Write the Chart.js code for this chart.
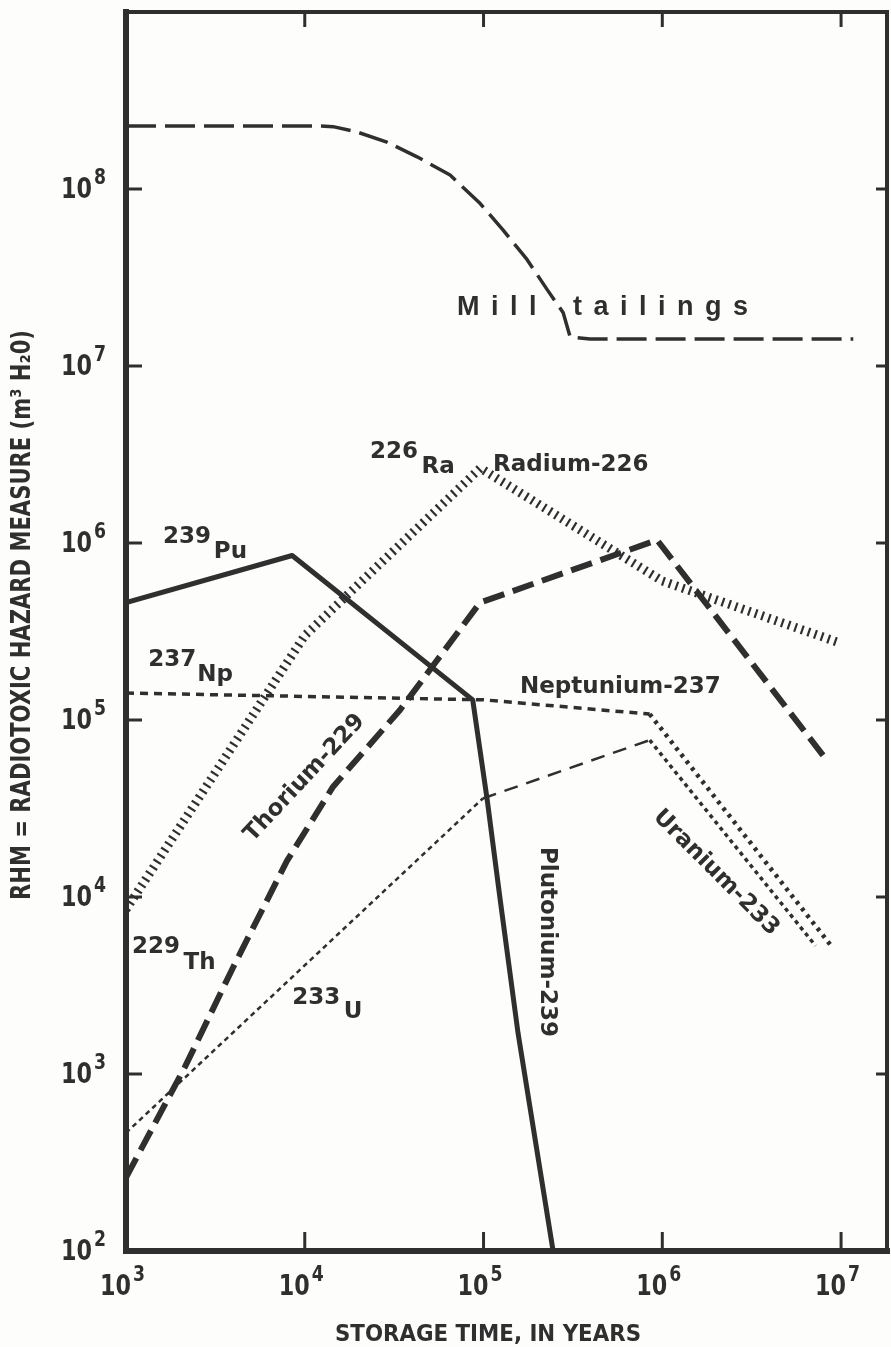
<!DOCTYPE html>
<html>
<head>
<meta charset="utf-8">
<script src="https://cdn.jsdelivr.net/npm/chart.js@4.4.1/dist/chart.umd.min.js"></script>
<style>
  html, body { margin: 0; padding: 0; background: #fdfdfb; }
  #wrap { width: 891px; height: 1347px; }
</style>
</head>
<body>
<div id="wrap"><canvas id="chart" width="891" height="1347"></canvas></div>
<script>
// axes (storage time in years, hazard measure in m3 water)
const xTicks = [1e3, 1e4, 1e5, 1e6, 1e7];
const xTickExp = ["3", "4", "5", "6", "7"];
const yTicks = [1e2, 1e3, 1e4, 1e5, 1e6, 1e7, 1e8];
const yTickExp = ["2", "3", "4", "5", "6", "7", "8"];

// Mill tailings
const millX = [1e3, 1.22e4, 1.44e4, 1.96e4, 2.88e4, 4.25e4, 6.5e4, 9.55e4, 1.28e5, 1.75e5, 2.27e5, 2.79e5, 3.05e5, 3.94e5, 1.17e7];
const millY = [2.27e8, 2.27e8, 2.25e8, 2.1e8, 1.84e8, 1.52e8, 1.2e8, 8.3e7, 5.9e7, 4.0e7, 2.7e7, 2.0e7, 1.46e7, 1.42e7, 1.42e7];

// Plutonium-239
const puX = [1e3, 8.5e3, 8.7e4, 1.05e5, 1.24e5, 1.56e5, 2.45e5];
const puY = [4.6e5, 8.5e5, 1.3e5, 3.5e4, 9.6e3, 1.7e3, 1e2];

// Radium-226
const raX = [1e3, 1e4, 9.6e4, 1e6, 9.5e6];
const raY = [8.5e3, 3e5, 2.65e6, 6.1e5, 2.76e5];

// Thorium-229
const thX = [1e3, 2.14e3, 3.97e3, 7.95e3, 1.44e4, 3.41e4, 9.55e4, 9.35e5, 8.35e6];
const thY = [2.6e2, 1.1e3, 4.0e3, 1.6e4, 4.2e4, 1.14e5, 4.6e5, 1.04e6, 5.9e4];

// Neptunium-237
const npX = [1e3, 1e5, 8.5e5, 9e6];
const npY = [1.42e5, 1.3e5, 1.08e5, 5.15e3];

// Uranium-233
const uX = [1e3, 9.9e4, 8.5e5, 7.2e6];
const uY = [4.65e2, 3.6e4, 7.7e4, 5.3e3];

const ink = "#2f2f2f";

function pts(xs, ys) {
  return xs.map((x, i) => ({ x: x, y: ys[i] }));
}

function series(label, xs, ys, width, dash, seg) {
  const ds = {
    label: label,
    data: pts(xs, ys),
    showLine: true,
    borderColor: ink,
    borderWidth: width,
    borderDash: dash,
    borderCapStyle: "butt",
    borderJoinStyle: "round",
    pointRadius: 0,
    tension: 0,
    fill: false
  };
  if (seg) ds.segment = seg;
  return ds;
}

// text helpers
function txt(ctx, s, x, y, font, align, base, fitW, rot) {
  ctx.save();
  ctx.font = font;
  ctx.fillStyle = ink;
  ctx.textAlign = align;
  ctx.textBaseline = base;
  ctx.translate(x, y);
  if (rot) ctx.rotate(rot);
  if (fitW) {
    const w = ctx.measureText(s).width;
    ctx.scale(fitW / w, 1);
  }
  ctx.fillText(s, 0, 0);
  ctx.restore();
}

function spaced(ctx, s, x, y, font, gap) {
  ctx.save();
  ctx.font = font;
  ctx.fillStyle = ink;
  ctx.textAlign = "left";
  ctx.textBaseline = "alphabetic";
  let cx = x;
  for (const ch of s) {
    ctx.fillText(ch, cx, y);
    cx += ctx.measureText(ch).width + gap;
  }
  ctx.restore();
}

const labelFont = 'bold 23px "DejaVu Sans"';
const condFont = '"DejaVu Sans Condensed", "Liberation Sans Narrow", sans-serif';

// annotation positions in data units
const notes = [
  { s: "226", x: 2.32e4, y: 3.27e6 },
  { s: "Ra", x: 4.5e4, y: 2.69e6 },
  { s: "Radium-226", x: 1.13e5, y: 2.76e6 },
  { s: "239", x: 1.61e3, y: 1.08e6 },
  { s: "Pu", x: 3.1e3, y: 8.9e5 },
  { s: "237", x: 1.33e3, y: 2.18e5 },
  { s: "Np", x: 2.5e3, y: 1.8e5 },
  { s: "Neptunium-237", x: 1.6e5, y: 1.53e5 },
  { s: "229", x: 1.08e3, y: 5.2e3 },
  { s: "Th", x: 2.1e3, y: 4.24e3 },
  { s: "233", x: 8.5e3, y: 2.69e3 },
  { s: "U", x: 1.65e4, y: 2.24e3 }
];
const turned = [
  { s: "Thorium-229", x: 1.0e4, y: 4.7e4, rot: -47 },
  { s: "Plutonium-239", x: 2.27e5, y: 5.57e3, rot: 90 },
  { s: "Uranium-233", x: 2.0e6, y: 1.37e4, rot: 45 }
];

const framePlugin = {
  id: "frame",
  afterDraw(chart) {
    const ctx = chart.ctx;
    const a = chart.chartArea;
    const xs = chart.scales.x, ys = chart.scales.y;

    ctx.save();
    ctx.strokeStyle = ink;
    ctx.lineCap = "square";
    // frame
    ctx.lineWidth = 6;
    ctx.beginPath(); ctx.moveTo(a.left, a.top); ctx.lineTo(a.left, a.bottom); ctx.lineTo(a.right, a.bottom); ctx.stroke();
    ctx.lineWidth = 4;
    ctx.beginPath(); ctx.moveTo(a.left, a.top); ctx.lineTo(a.right, a.top); ctx.lineTo(a.right, a.bottom); ctx.stroke();

    // ticks
    ctx.lineCap = "butt";
    ctx.lineWidth = 3;
    yTicks.forEach(v => {
      const p = ys.getPixelForValue(v);
      if (v > 1e2) {
        ctx.beginPath(); ctx.moveTo(a.left, p); ctx.lineTo(a.left + 16, p); ctx.stroke();
        ctx.beginPath(); ctx.moveTo(a.right, p); ctx.lineTo(a.right - 11, p); ctx.stroke();
      }
    });
    xTicks.forEach(v => {
      const p = xs.getPixelForValue(v);
      if (v > 1e3) {
        ctx.beginPath(); ctx.moveTo(p, a.bottom); ctx.lineTo(p, a.bottom - 19); ctx.stroke();
        ctx.beginPath(); ctx.moveTo(p, a.top); ctx.lineTo(p, a.top + 15); ctx.stroke();
      }
    });
    ctx.restore();

    // tick labels
    yTicks.forEach((v, i) => {
      const p = ys.getPixelForValue(v);
      txt(ctx, "10", a.left - 34, p + 1, "bold 29px " + condFont, "right", "middle", 31);
      txt(ctx, yTickExp[i], a.left - 32, p - 10, "bold 21px " + condFont, "left", "middle", 12);
    });
    xTicks.forEach((v, i) => {
      const p = xs.getPixelForValue(v);
      txt(ctx, "10", p + 5, a.bottom + 36, "bold 29px " + condFont, "right", "middle", 31);
      txt(ctx, xTickExp[i], p + 7, a.bottom + 25, "bold 21px " + condFont, "left", "middle", 12);
    });

    // axis titles
    txt(ctx, "STORAGE TIME, IN YEARS", 488, a.bottom + 84, "bold 23px " + condFont, "center", "middle", 306);
    txt(ctx, "RHM = RADIOTOXIC HAZARD MEASURE (m\u00b3 H\u20820)", 23, 615, "bold 26px " + condFont, "center", "middle", 570, -Math.PI / 2);

    // curve labels
    notes.forEach(n => {
      txt(ctx, n.s, xs.getPixelForValue(n.x), ys.getPixelForValue(n.y), labelFont, "left", "middle");
    });
    turned.forEach(n => {
      txt(ctx, n.s, xs.getPixelForValue(n.x), ys.getPixelForValue(n.y), labelFont, "center", "middle", null, n.rot * Math.PI / 180);
    });

    // mill tailings, letter spaced
    const mf = 'bold 27px "Liberation Sans", Arial, sans-serif';
    spaced(ctx, "Mill", xs.getPixelForValue(7.1e4), ys.getPixelForValue(1.94e7), mf, 11.5);
    spaced(ctx, "tailings", xs.getPixelForValue(3.17e5), ys.getPixelForValue(1.94e7), mf, 11.5);
  }
};

const ctx = document.getElementById("chart").getContext("2d");

const chart = new Chart(ctx, {
  type: "scatter",
  data: {
    datasets: [
      series("Mill tailings", millX, millY, 3.5, [30, 9]),
      series("Plutonium-239", puX, puY, 5, []),
      series("Radium-226", raX, raY, 9, [2.2, 4.8]),
      series("Thorium-229", thX, thY, 6, [22, 9]),
      series("Neptunium-237", npX, npY, 3.5, [8, 6], {
        borderDash: c => c.p0DataIndex >= 2 ? [3.5, 5] : [8, 6],
        borderWidth: c => c.p0DataIndex >= 2 ? 4.5 : 3.5
      }),
      series("Uranium-233", uX, uY, 2.5, [5, 4], {
        borderDash: c => c.p0DataIndex === 1 ? [14, 9] : (c.p0DataIndex >= 2 ? [4, 4] : [5, 4]),
        borderWidth: c => c.p0DataIndex >= 2 ? 3.5 : 2.5
      })
    ]
  },
  options: {
    responsive: false,
    animation: false,
    devicePixelRatio: 1,
    layout: { padding: { left: 126, top: 12, right: 4, bottom: 96 } },
    plugins: { legend: { display: false }, tooltip: { enabled: false } },
    scales: {
      x: { type: "logarithmic", min: 1e3, max: 1.807e7, display: false },
      y: { type: "logarithmic", min: 1e2, max: 1e9, display: false }
    }
  },
  plugins: [framePlugin]
});
</script>
</body>
</html>
